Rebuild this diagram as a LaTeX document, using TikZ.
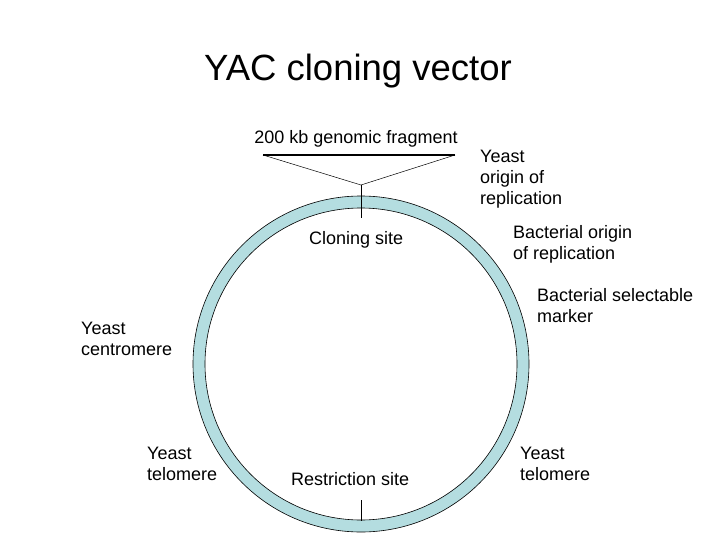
\documentclass[tikz,border=0pt]{standalone}
\usepackage{fontspec}
\setmainfont{Liberation Sans}
\begin{document}
\begin{tikzpicture}[x=1pt,y=-1pt,
  lbl/.style={font=\fontsize{18}{21}\selectfont, align=left, inner sep=0pt, anchor=north west},
  ringc/.style={draw=black, line width=0.6pt}]
\useasboundingbox (0,0) rectangle (720,540);
\definecolor{ringblue}{HTML}{B4DDE0}
\coordinate (c) at (361,364);
\fill[ringblue, even odd rule] (c) circle (168) (c) circle (156);
\draw[ringc] (c) circle (168);
\draw[ringc] (c) circle (156);
\node[font=\fontsize{36.5}{38}\selectfont, inner sep=0pt] (title) at (358,71) {YAC cloning vector};
\node[lbl, anchor=center] (frag) at (356,139) {200 kb genomic fragment};
\coordinate (fl) at (263,155);
\coordinate (fr) at (455,155);
\coordinate (apex) at (361,185);
\coordinate (cs) at (361,218);
\draw[line width=2.2pt] (fl) -- (fr);
\draw[line width=0.5pt] (fl) -- (apex) -- (fr);
\draw[line width=0.5pt] (apex) -- (cs);
\coordinate (rs1) at (361,500);
\coordinate (rs2) at (361,521);
\draw[line width=0.5pt] (rs1) -- (rs2);
\node[lbl] (yori) at (480,150) {Yeast\\origin of\\replication};
\node[lbl] (cls) at (309,231) {Cloning site};
\node[lbl] (bori) at (513,225) {Bacterial origin\\of replication};
\node[lbl] (bsm) at (537,288) {Bacterial selectable\\marker};
\node[lbl] (ycen) at (81,322) {Yeast\\centromere};
\node[lbl] (ytel1) at (147,447) {Yeast\\telomere};
\node[lbl] (rsite) at (291,472) {Restriction site};
\node[lbl] (ytel2) at (520,447) {Yeast\\telomere};
\end{tikzpicture}
\end{document}
